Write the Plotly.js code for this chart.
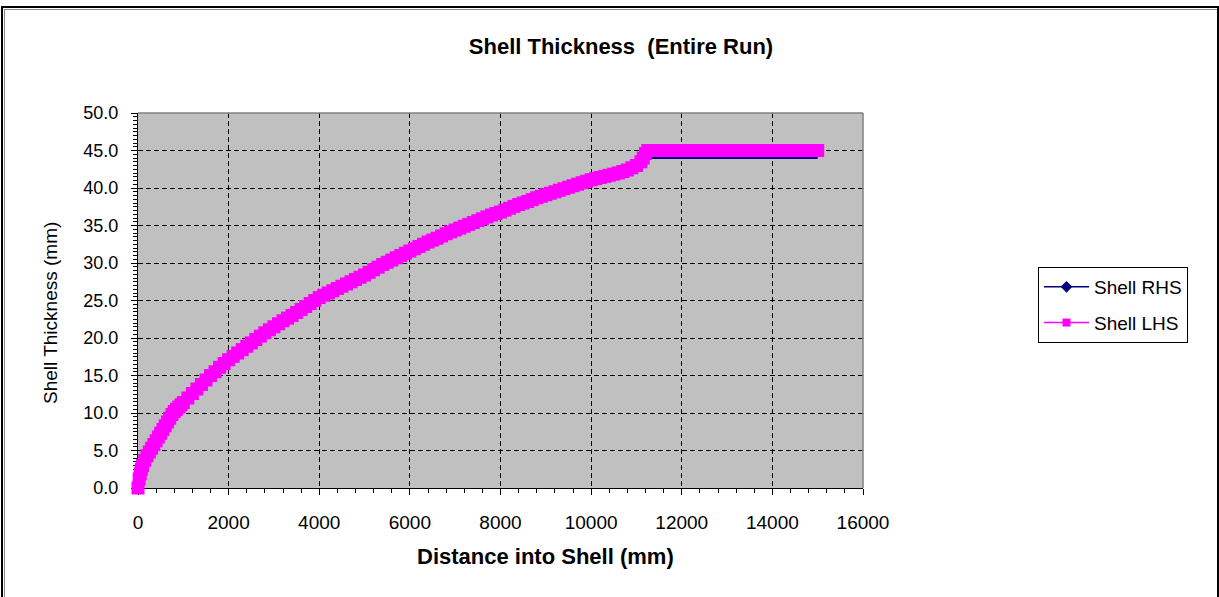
<!DOCTYPE html>
<html>
<head>
<meta charset="utf-8">
<script src="https://cdn.plot.ly/plotly-3.0.1.min.js"></script>
<style>
  html, body { margin: 0; padding: 0; width: 1219px; height: 597px; overflow: hidden; background: #fff; }
  #frame { position: absolute; left: 1px; top: 6px; width: 1214px; height: 640px; border: 2px solid #000; box-sizing: content-box; }
  #inner { position: absolute; left: 1px; top: 1px; width: 1212px; height: 640px; border-left: 1px solid #8a8a8a; border-top: 1px solid #8a8a8a; }
  #chart { position: absolute; left: 0; top: 0; width: 1219px; height: 597px; }
</style>
</head>
<body>
<div id="frame"><div id="inner"></div></div>
<div id="chart"></div>
<script>
// ---- data ----
const seriesNames = ["Shell RHS", "Shell LHS"];
const chartTitle = "Shell Thickness  (Entire Run)";
const xTitle = "Distance into Shell (mm)";
const yTitle = "Shell Thickness (mm)";

// Shell LHS: distance into shell (mm) and thickness (mm)
const lhsDistance = [
  0, 25, 50, 75, 100, 150, 200, 250, 300, 350, 400, 450, 500, 550, 600, 650, 700, 750, 800, 850, 900, 950,
  1000, 1100, 1200, 1300, 1400, 1500, 1600, 1700, 1800, 1900,
  2000, 2100, 2200, 2300, 2400, 2500, 2600, 2700, 2800, 2900,
  3000, 3100, 3200, 3300, 3400, 3500, 3600, 3700, 3800, 3900,
  4000, 4100, 4200, 4300, 4400, 4500, 4600, 4700, 4800, 4900,
  5000, 5100, 5200, 5300, 5400, 5500, 5600, 5700, 5800, 5900,
  6000, 6100, 6200, 6300, 6400, 6500, 6600, 6700, 6800, 6900,
  7000, 7100, 7200, 7300, 7400, 7500, 7600, 7700, 7800, 7900,
  8000, 8100, 8200, 8300, 8400, 8500, 8600, 8700, 8800, 8900,
  9000, 9100, 9200, 9300, 9400, 9500, 9600, 9700, 9800, 9900,
  10000, 10100, 10200, 10300, 10400, 10500, 10600, 10700, 10800, 10900,
  11000, 11100, 11150, 11200, 11250,
  11400, 11600, 11800, 12000, 12200, 12400, 12600, 12800, 13000, 13200,
  13400, 13600, 13800, 14000, 14200, 14400, 14600, 14800, 15000
];
const lhsThickness = [
  0.0, 1.2, 1.9, 2.5, 3.0, 3.7, 4.3, 4.8, 5.3, 5.8, 6.3, 6.8, 7.3, 7.8, 8.3, 8.8, 9.3, 9.8, 10.2, 10.5, 10.8, 11.1,
  11.4, 12.0, 12.6, 13.2, 13.8, 14.4, 15.0, 15.5, 16.1, 16.6,
  17.1, 17.55, 18.0, 18.45, 18.9, 19.35, 19.8, 20.25, 20.7, 21.1,
  21.5, 21.9, 22.3, 22.65, 23.0, 23.4, 23.8, 24.2, 24.6, 25.0,
  25.4, 25.7, 26.0, 26.3, 26.6, 26.9, 27.2, 27.5, 27.8, 28.1,
  28.4, 28.75, 29.1, 29.45, 29.8, 30.1, 30.4, 30.7, 31.0, 31.3,
  31.6, 31.9, 32.2, 32.5, 32.8, 33.05, 33.3, 33.6, 33.9, 34.15,
  34.4, 34.65, 34.9, 35.15, 35.4, 35.65, 35.9, 36.15, 36.4, 36.6,
  36.8, 37.05, 37.3, 37.55, 37.8, 38.0, 38.2, 38.45, 38.7, 38.9,
  39.1, 39.3, 39.5, 39.7, 39.9, 40.1, 40.3, 40.5, 40.7, 40.9,
  41.1, 41.25, 41.4, 41.55, 41.7, 41.85, 42.0, 42.2, 42.4, 42.7,
  43.0, 43.5, 44.0, 44.6, 45.0,
  45.0, 45.0, 45.0, 45.0, 45.0, 45.0, 45.0, 45.0, 45.0, 45.0,
  45.0, 45.0, 45.0, 45.0, 45.0, 45.0, 45.0, 45.0, 45.0
];

// Shell RHS: distance into shell (mm) and thickness (mm)
const rhsDistance = [
  0, 100, 250, 500, 750, 1000, 1500, 2000, 3000, 4000, 5000, 6000, 7000, 8000, 9000, 10000,
  11000, 11200, 11350, 12000, 13000, 14000, 15000
];
const rhsThickness = [
  0.0, 3.0, 4.8, 7.3, 9.8, 11.4, 14.4, 17.1, 21.5, 25.4, 28.4, 31.6, 34.4, 36.8, 39.1, 41.1,
  43.0, 43.7, 44.0, 44.0, 44.0, 44.0, 44.0
];

// axis tick settings
const xTickStep = 2000, xMinorStep = 400, xMax = 16000;
const yTickStep = 5, yMinorStep = 0.5, yMax = 50;

// ---- styling ----
const FONT = "Liberation Sans, Arial, sans-serif";
const NAVY = "#000080";
const MAGENTA = "#FF00FF";

const traces = [
  { // RHS line in the plot
    x: rhsDistance, y: rhsThickness, type: "scatter", mode: "lines",
    line: { color: NAVY, width: 2 }, showlegend: false, legendgroup: "rhs",
    cliponaxis: false
  },
  { // LHS markers in the plot (dense square markers form a thick band)
    x: lhsDistance, y: lhsThickness, type: "scatter", mode: "lines+markers",
    line: { color: MAGENTA, width: 10 },
    marker: { symbol: "square", size: 13, color: MAGENTA, line: { width: 0 } },
    showlegend: false, legendgroup: "lhs", cliponaxis: false
  },
  { // legend entry for RHS
    x: [null], y: [null], type: "scatter", mode: "lines+markers", name: seriesNames[0],
    line: { color: NAVY, width: 1.5 }, marker: { symbol: "diamond", size: 9, color: NAVY },
    legendgroup: "rhs"
  },
  { // legend entry for LHS
    x: [null], y: [null], type: "scatter", mode: "lines+markers", name: seriesNames[1],
    line: { color: MAGENTA, width: 1.5 }, marker: { symbol: "square", size: 8, color: MAGENTA },
    legendgroup: "lhs"
  }
];

const layout = {
  width: 1219, height: 597,
  margin: { l: 138, r: 356, t: 113, b: 109, pad: 0 },
  paper_bgcolor: "rgba(0,0,0,0)",
  plot_bgcolor: "#C0C0C0",
  font: { family: FONT, color: "#000", size: 18 },
  title: {
    text: "<b>" + chartTitle + "</b>",
    font: { family: FONT, size: 22, color: "#000" },
    x: 621 / 1219, xref: "container", xanchor: "center",
    y: 1 - 46 / 597, yref: "container", yanchor: "middle"
  },
  xaxis: {
    range: [0, xMax], dtick: xTickStep, tick0: 0, tickformat: "d",
    showgrid: true, gridcolor: "#000", gridwidth: 1, griddash: "5px,3px",
    zeroline: false, showline: true, linecolor: "#000", linewidth: 1,
    ticks: "outside", ticklen: 6, tickcolor: "#000", tickwidth: 1,
    minor: { dtick: xMinorStep, ticks: "outside", ticklen: 4, tickcolor: "#000", showgrid: false },
    tickfont: { family: FONT, size: 19, color: "#000" },
    ticklabelstandoff: 11,
    automargin: false, layer: "below traces", fixedrange: true
  },
  yaxis: {
    range: [0, yMax], dtick: yTickStep, tick0: 0, tickformat: ".1f",
    showgrid: true, gridcolor: "#000", gridwidth: 1, griddash: "5px,3px",
    zeroline: false, showline: true, linecolor: "#000", linewidth: 1,
    ticks: "outside", ticklen: 6, tickcolor: "#000", tickwidth: 1,
    minor: { dtick: yMinorStep, ticks: "outside", ticklen: 4, tickcolor: "#000", showgrid: false },
    tickfont: { family: FONT, size: 18, color: "#000" },
    ticklabelstandoff: 9,
    automargin: false, layer: "below traces", fixedrange: true
  },
  annotations: [
    { text: "<b>" + xTitle + "</b>", xref: "paper", yref: "paper",
      x: (545 - 138) / 725, y: (488 - 556) / 375, xanchor: "center", yanchor: "middle",
      showarrow: false, font: { family: FONT, size: 22, color: "#000" } },
    { text: yTitle, xref: "paper", yref: "paper", textangle: -90,
      x: (50 - 138) / 725, y: (488 - 313) / 375, xanchor: "center", yanchor: "middle",
      showarrow: false, font: { family: FONT, size: 19, color: "#000" } }
  ],
  shapes: [
    { type: "line", xref: "paper", yref: "paper", x0: 0, x1: 1, y0: 1, y1: 1, line: { color: "#808080", width: 1.5 }, layer: "above" },
    { type: "line", xref: "paper", yref: "paper", x0: 1, x1: 1, y0: 0, y1: 1, line: { color: "#808080", width: 1.5 }, layer: "above" }
  ],
  showlegend: true,
  legend: {
    x: 1038 / 1219, xref: "container", xanchor: "left",
    y: 1 - 267 / 597, yref: "container", yanchor: "top",
    bgcolor: "#fff", bordercolor: "#000", borderwidth: 1,
    font: { family: FONT, size: 19, color: "#000" },
    tracegroupgap: 8, traceorder: "grouped", itemwidth: 45
  },
  hovermode: false
};

Plotly.newPlot("chart", traces, layout, { displayModeBar: false, staticPlot: true });
</script>
</body>
</html>
